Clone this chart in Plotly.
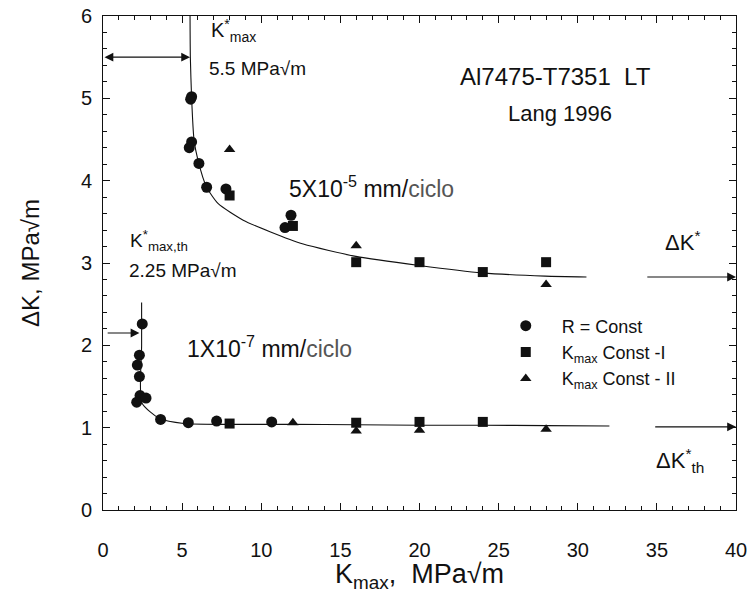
import plotly.graph_objects as go

# ---- data ----
# upper band (5x10^-5 mm/ciclo)
r_up_x = [5.6, 5.54, 5.6, 5.45, 6.06, 6.55, 7.77, 11.88, 11.5]
r_up_y = [5.02, 4.99, 4.47, 4.40, 4.21, 3.92, 3.90, 3.58, 3.43]
k1_up_x = [8.0, 12.0, 16.0, 20.0, 24.0, 28.0]
k1_up_y = [3.82, 3.45, 3.01, 3.01, 2.89, 3.01]
k2_up_x = [8.0, 16.0, 28.0]
k2_up_y = [4.38, 3.21, 2.74]

# lower band (1x10^-7 mm/ciclo)
r_lo_x = [2.48, 2.3, 2.17, 2.3, 2.34, 2.13, 2.72, 3.64, 5.39, 7.18, 10.66]
r_lo_y = [2.26, 1.88, 1.76, 1.62, 1.39, 1.31, 1.36, 1.10, 1.06, 1.08, 1.07]
k1_lo_x = [8.0, 16.0, 20.0, 24.0]
k1_lo_y = [1.05, 1.06, 1.07, 1.07]
k2_lo_x = [12.0, 16.0, 20.0, 28.0]
k2_lo_y = [1.06, 0.96, 0.97, 0.98]

# fitted curves as drawn
curve_up_x = [5.5, 5.52, 5.6, 5.75, 6.0, 6.55, 7.28, 8.86, 10.55, 12.65, 15.98, 19.98, 23.96, 27.94, 30.55]
curve_up_y = [6.0, 5.5, 5.0, 4.5, 4.25, 3.92, 3.72, 3.52, 3.38, 3.23, 3.08, 2.97, 2.88, 2.84, 2.83]
curve_lo_x = [2.44, 2.44, 2.46, 3.6, 5.1, 8.0, 12.0, 16.0, 20.0, 24.0, 28.0, 32.0]
curve_lo_y = [2.52, 2.0, 1.3, 1.11, 1.05, 1.04, 1.04, 1.035, 1.03, 1.03, 1.025, 1.02]

x_ticks = [0, 5, 10, 15, 20, 25, 30, 35, 40]
y_ticks = [0, 1, 2, 3, 4, 5, 6]

FONT = "Liberation Sans, Arial, Helvetica, sans-serif"
BLACK = "#111111"

fig = go.Figure()

for cx, cy in [(curve_up_x, curve_up_y), (curve_lo_x, curve_lo_y)]:
    fig.add_trace(go.Scatter(x=cx, y=cy, mode="lines", showlegend=False,
                             line=dict(color=BLACK, width=1.1, shape="spline", smoothing=0.6),
                             hoverinfo="skip"))

fig.add_trace(go.Scatter(x=r_up_x + r_lo_x, y=r_up_y + r_lo_y, mode="markers",
                         name="R = Const",
                         marker=dict(symbol="circle", size=11, color=BLACK)))
fig.add_trace(go.Scatter(x=k1_up_x + k1_lo_x, y=k1_up_y + k1_lo_y, mode="markers",
                         name="K<sub>max</sub> Const -I",
                         marker=dict(symbol="square", size=10, color=BLACK)))
fig.add_trace(go.Scatter(x=k2_up_x + k2_lo_x, y=k2_up_y + k2_lo_y, mode="markers",
                         name="K<sub>max</sub> Const - II",
                         marker=dict(symbol="triangle-up", size=10, color=BLACK)))

def txt(x, y, s, size=16, anchor="left", color=BLACK):
    fig.add_annotation(x=x, y=y, xref="x", yref="y", text=s, showarrow=False,
                       xanchor=anchor, yanchor="middle",
                       font=dict(family=FONT, size=size, color=color))

GRAY = "<span style='color:#555555'>ciclo</span>"
txt(6.7, 5.82, "K<sup>*</sup><sub>max</sub>", 20)
txt(6.6, 5.36, "5.5 MPa√m", 19)
txt(28.6, 5.27, "Al7475-T7351  LT", 24, "center")
txt(28.9, 4.82, "Lang 1996", 22, "center")
txt(11.6, 3.92, "5X10<sup>-5</sup> mm/" + GRAY, 23)
txt(1.6, 3.27, "K<sup>*</sup><sub>max,th</sub>", 19)
txt(1.5, 2.91, "2.25 MPa√m", 19)
txt(5.2, 1.98, "1X10<sup>-7</sup> mm/" + GRAY, 23)
txt(35.4, 3.27, "ΔK<sup>*</sup>", 22)
txt(34.8, 0.6, "ΔK<sup>*</sup><sub>th</sub>", 22)

def arrow(x0, y0, x1, y1, both=False):
    fig.add_annotation(x=x1, y=y1, ax=x0, ay=y0, xref="x", yref="y", axref="x", ayref="y",
                       text="", showarrow=True, arrowhead=2, arrowsize=1.6, arrowwidth=1.1,
                       arrowcolor=BLACK, arrowside="end+start" if both else "end",
                       standoff=0, startstandoff=0)

arrow(0.0, 5.5, 5.5, 5.5, both=True)
arrow(0.2, 2.15, 2.3, 2.15)
arrow(34.3, 2.83, 40.0, 2.83)
arrow(34.8, 1.01, 40.0, 1.01)

axis_common = dict(showline=True, linecolor=BLACK, linewidth=1, mirror="allticks",
                   ticks="inside", ticklen=7, tickcolor=BLACK, tickwidth=1,
                   showgrid=False, zeroline=False, automargin=False,
                   tickfont=dict(family=FONT, size=20, color=BLACK))

fig.update_xaxes(range=[0, 40], tickvals=x_ticks, ticktext=[str(v) for v in x_ticks],
                 ticklabelstandoff=22,
                 minor=dict(ticks="inside", dtick=1, ticklen=4, tickcolor=BLACK, showgrid=False),
                 title=dict(text="K<sub>max</sub>,  MPa√m", font=dict(family=FONT, size=27, color=BLACK),
                            standoff=8),
                 **axis_common)
fig.update_yaxes(range=[0, 6], tickvals=y_ticks, ticktext=[str(v) for v in y_ticks],
                 ticklabelstandoff=6,
                 minor=dict(ticks="inside", dtick=0.2, ticklen=4, tickcolor=BLACK, showgrid=False),
                 title=dict(text="ΔK, MPa√m", font=dict(family=FONT, size=24, color=BLACK),
                            standoff=34),
                 **axis_common)

fig.update_layout(
    width=752, height=593,
    margin=dict(l=103, r=16, t=16, b=83),
    paper_bgcolor="white", plot_bgcolor="white",
    font=dict(family=FONT, color=BLACK),
    legend=dict(x=0.611, y=0.41, xanchor="left", yanchor="top",
                bgcolor="rgba(0,0,0,0)", font=dict(family=FONT, size=18, color=BLACK),
                itemwidth=62, tracegroupgap=0),
)

fig.write_html("out.html")
